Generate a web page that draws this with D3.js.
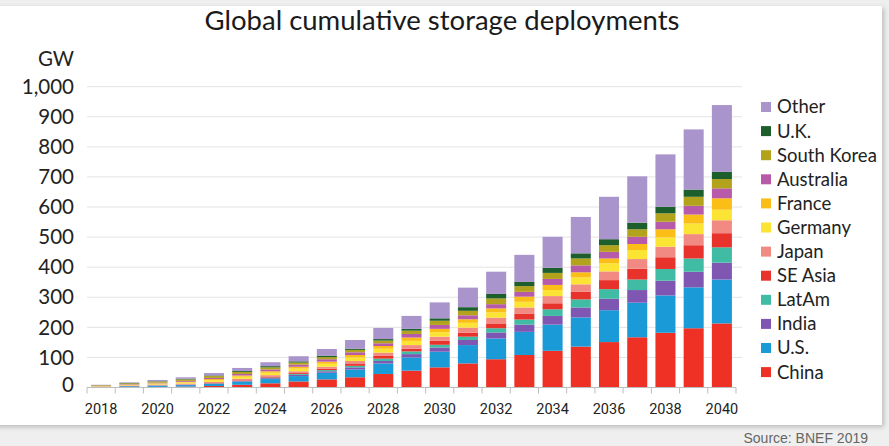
<!DOCTYPE html>
<html><head><meta charset="utf-8">
<script src="https://cdn.jsdelivr.net/npm/d3@7"></script>
<style>
html,body{margin:0;padding:0;background:#efefef;}
svg{display:block;}
</style></head>
<body>
<svg id="chart" width="889" height="446"></svg>
<script>
const years = ["2018","2019","2020","2021","2022","2023","2024","2025","2026","2027","2028","2029","2030","2031","2032","2033","2034","2035","2036","2037","2038","2039","2040"];
const seriesNames = ["China","U.S.","India","LatAm","SE Asia","Japan","Germany","France","Australia","South Korea","U.K.","Other"];
const seriesColors = ["#ee3124","#1b9ad8","#7f57b2","#3fbca3","#e8322c","#f28a84","#fbe433","#fbbe17","#b75aa9","#b3a21c","#1c5e2c","#a994cb"];
const china      = [0.5,1,2,3,5,9,14,20,27,34,45,56,67,80,94,108,122,136,151,167,182,197,213];
const us         = [1.5,3,4,5,7,10,14,18,22,26,35,44,52,61,69,77,87,97,106,115,124,136,146];
const india      = [0.2,0.3,0.5,1,1,2,3,4,5,7,8,11,14,17,20,24,29,33,38,42,49,52,56];
const latam      = [0.2,0.3,0.5,0.5,1,1,2,3,4,5,8,9,9,11,14,17,22,27,32,35,39,44,51];
const seAsia     = [0.2,0.3,0.5,0.5,1,2,2,3,4,6,9,9,13,13,16,20,20,25,30,36,39,44,47];
const japan      = [1,2,2.5,3,4,5,6,6,7,10,11,12,14,17,19,20,24,25,29,32,35,37,43];
const germany    = [1,2,3,4,6,7,8,9,10,12,13,14,15,16,18,19,20,23,27,30,31,35,35];
const france     = [0.3,0.6,1,2,3,4,5,6,7,8,9,11,11,12,13,17,17,17,16,20,27,30,38];
const australia  = [0.8,1.5,2,3,4,5,6,7,8,9,9,12,13,13,14,16,20,23,22,24,25,29,33];
const southKorea = [2,3,4,5,6,7,7,7,7,8,9,11,14,15,19,19,20,23,22,25,28,30,31];
const uk         = [0.3,1,1,2,2,3,4,4,5,4,5,6,8,12,15,14,17,17,20,22,22,24,24];
const other      = [1,2,4,5,8,10,13,17,22,29,37,43,53,65,74,90,103,121,141,154,174,200,222];
const yTicks = [0,100,200,300,400,500,600,700,800,900,1000];
const xTickLabels = ["2018","2020","2022","2024","2026","2028","2030","2032","2034","2036","2038","2040"];

const seriesValues = [china,us,india,latam,seAsia,japan,germany,france,australia,southKorea,uk,other];
const rows = years.map((y,i)=>{
  const r = {year:y};
  seriesNames.forEach((n,k)=>{ r[n] = seriesValues[k][i]; });
  return r;
});

const svg = d3.select("#chart");
const defs = svg.append("defs");
const f = defs.append("filter").attr("id","sh").attr("x","-5%").attr("y","-5%").attr("width","110%").attr("height","115%");
f.append("feDropShadow").attr("dx",2).attr("dy",2).attr("stdDeviation",2.5).attr("flood-color","#000").attr("flood-opacity",0.22);

svg.append("rect").attr("x",-10).attr("y",6).attr("width",892).attr("height",419)
  .attr("fill","#fff").attr("filter","url(#sh)");

const x = d3.scaleBand().domain(years).range([87,736]).paddingInner(0.29).paddingOuter(0.145);
const y = d3.scaleLinear().domain([0,1000]).range([387.5,86.7]);

// gridlines
svg.append("g").selectAll("line").data(yTicks.slice(1)).join("line")
  .attr("x1",87).attr("x2",742).attr("y1",d=>y(d)).attr("y2",d=>y(d))
  .attr("stroke","#e3e3e3").attr("stroke-width",1);

const stack = d3.stack().keys(seriesNames)(rows);
svg.append("g").selectAll("g").data(stack).join("g")
  .attr("fill",(d,i)=>seriesColors[i])
  .selectAll("rect").data(d=>d).join("rect")
  .attr("x",d=>x(d.data.year))
  .attr("width",x.bandwidth())
  .attr("y",d=>y(d[1]))
  .attr("height",d=>Math.max(0,y(d[0])-y(d[1])));

// x axis
const xa = svg.append("g").attr("transform",`translate(0,${y(0)})`);
xa.append("line").attr("x1",87).attr("x2",736).attr("stroke","#bdbdbd");
const step = x.step();
xa.selectAll("line.t").data(d3.range(years.length+1)).join("line").attr("class","t")
  .attr("x1",d=>87+d*step).attr("x2",d=>87+d*step).attr("y1",0).attr("y2",6).attr("stroke","#bdbdbd");
xa.selectAll("text").data(xTickLabels).join("text")
  .attr("x",d=>x(d)+x.bandwidth()/2).attr("y",26.5)
  .attr("text-anchor","middle").attr("font-family","Roboto, sans-serif").attr("font-size",14.5).attr("fill","#222")
  .text(d=>d);

// y axis labels
const ya = svg.append("g");
ya.selectAll("text").data(yTicks).join("text")
  .attr("x",74).attr("y",d=>y(d)-(d===0?3:0)).attr("dy","0.35em").attr("text-anchor","end")
  .attr("font-family","Lato, sans-serif").attr("font-size",20.5).attr("fill","#222")
  .text(d=>d3.format(",")(d));
svg.append("text").attr("x",74).attr("y",59).attr("dy","0.35em").attr("text-anchor","end")
  .attr("font-family","Lato, sans-serif").attr("font-size",20.5).attr("fill","#222").text("GW");

// title
svg.append("text").attr("x",442).attr("y",30).attr("text-anchor","middle")
  .attr("font-family","Lato, sans-serif").attr("font-size",27.5).attr("fill","#1a1a1a")
  .text("Global cumulative storage deployments");

// legend
const legendOrder = seriesNames.slice().reverse();
const lg = svg.append("g").selectAll("g").data(legendOrder).join("g")
  .attr("transform",(d,i)=>`translate(761,${107+i*24.1})`);
lg.append("rect").attr("x",0).attr("y",-5).attr("width",10).attr("height",10)
  .attr("fill",d=>seriesColors[seriesNames.indexOf(d)]);
lg.append("text").attr("x",16).attr("y",0).attr("dy","0.35em")
  .attr("font-family","Lato, sans-serif").attr("font-size",18.5).attr("fill","#222").text(d=>d);

// source
svg.append("text").attr("x",868).attr("y",443).attr("text-anchor","end")
  .attr("font-family","Liberation Sans, Arial, sans-serif").attr("font-size",14).attr("fill","#666")
  .text("Source: BNEF 2019");
</script>
</body></html>
